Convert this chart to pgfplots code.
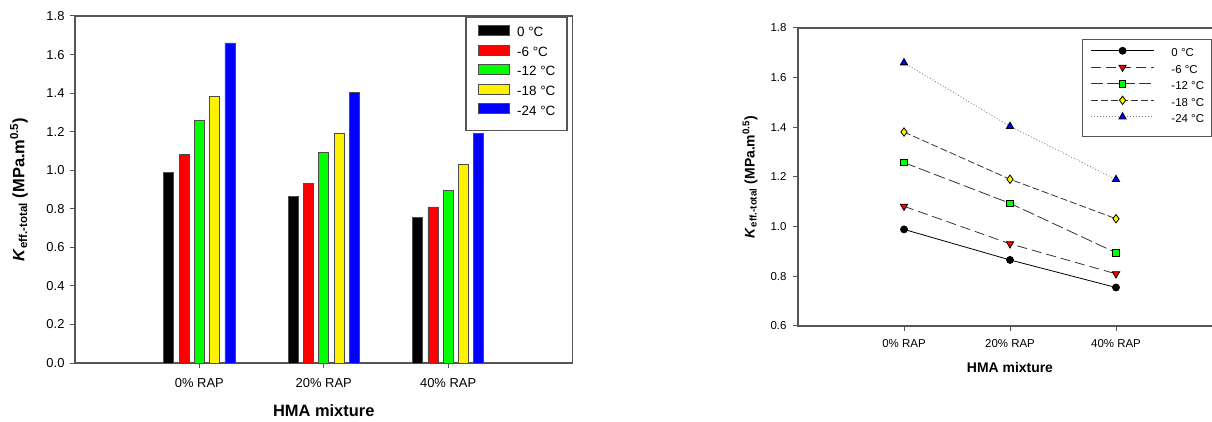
\documentclass[border=0pt]{standalone}
\usepackage{pgfplots}
\usepackage{pgfplotstable}
\pgfplotsset{compat=1.18}
\usepackage{fontspec}
\setmainfont{Liberation Sans}

\definecolor{axisgray}{HTML}{555555}
\definecolor{linegray}{HTML}{333333}

% K_eff,total for each mixture (rows) and test temperature (columns)
\pgfplotstableread{
x  T0    T6    T12   T18   T24
0  0.989 1.082 1.258 1.381 1.660
1  0.866 0.931 1.094 1.191 1.404
2  0.755 0.810 0.895 1.032 1.190
}\kdata

\pgfplotsset{
  common/.style={
    scale only axis,
    axis line style={axisgray, line width=1.2bp},
    tick style={axisgray, line width=1bp},
    major tick length=5bp,
    tick align=outside,
    xtick pos=bottom, ytick pos=left,
    xmin=-1, xmax=3,
    xtick={0,1,2},
    xticklabels={0\% RAP,20\% RAP,40\% RAP},
    /pgf/number format/assume math mode=true,
    yticklabel style={/pgf/number format/fixed, /pgf/number format/fixed zerofill,
      /pgf/number format/precision=1},
  },
}

\begin{document}
\begin{tikzpicture}
\path[use as bounding box] (0,0) rectangle (1212bp,422bp);

% ---------- bar chart ----------
\begin{axis}[common,
  at={(75bp,59bp)}, anchor=south west,
  width=497.5bp, height=347bp,
  ymin=0, ymax=1.8, ytick={0,0.2,...,1.8},
  ybar=5.3bp, bar width=10bp,
  tick label style={font=\fontsize{13}{15}\selectfont},
  xticklabel style={yshift=-7bp},
  yticklabel style={xshift=-2bp},
  every axis x label/.style={at={(rel axis cs:0.5,0)}, yshift=-48bp, anchor=center},
  every axis y label/.style={at={(rel axis cs:0,0.5)}, xshift=-56bp, rotate=90, anchor=center},
  label style={font=\fontsize{16.5}{19}\selectfont\bfseries},
  xlabel={HMA mixture},
  ylabel={\textit{K}\textsubscript{eff.-total} (MPa.m\textsuperscript{0.5})},
  legend image code/.code={\draw[#1] (0bp,-0.2bp) rectangle (31bp,9.8bp);},
  legend style={at={(rel axis cs:1,1)}, anchor=north east, xshift=-5bp, yshift=-1bp,
    draw=axisgray, line width=1.2bp, fill=white,
    font=\fontsize{13.5}{16}\selectfont,
    inner xsep=11.5bp, inner ysep=7.5bp, column sep=8bp,
    nodes={inner xsep=0bp, inner ysep=0bp, text height=11bp, text depth=8bp},
    legend cell align=left},
]
\addplot[fill=black,  draw=black!70, line width=0.6bp] table[x=x, y=T0]  {\kdata};
\addplot[fill=red,    draw=black!70, line width=0.6bp] table[x=x, y=T6]  {\kdata};
\addplot[fill=green,  draw=black!70, line width=0.6bp] table[x=x, y=T12] {\kdata};
\addplot[fill=yellow, draw=black!70, line width=0.6bp] table[x=x, y=T18] {\kdata};
\addplot[fill=blue,   draw=black!70, line width=0.6bp] table[x=x, y=T24] {\kdata};
\legend{0 °C,-6 °C,-12 °C,-18 °C,-24 °C}
\end{axis}

% ---------- line chart ----------
\begin{axis}[common,
  at={(798bp,96bp)}, anchor=south west,
  width=424bp, height=298bp,
  ymin=0.6, ymax=1.8, ytick={0.6,0.8,...,1.8},
  tick label style={font=\fontsize{11.5}{13}\selectfont},
  xticklabel style={yshift=-5bp},
  yticklabel style={xshift=-3bp},
  every axis x label/.style={at={(rel axis cs:0.5,0)}, yshift=-42bp, anchor=center},
  every axis y label/.style={at={(rel axis cs:0,0.5)}, xshift=-48bp, rotate=90, anchor=center},
  label style={font=\fontsize{14}{16}\selectfont\bfseries},
  xlabel={HMA mixture},
  ylabel={\textit{K}\textsubscript{eff.-total} (MPa.m\textsuperscript{0.5})},
  legend image code/.code={\draw[mark repeat=2,mark phase=2,#1] plot coordinates {(0bp,4.1bp) (31.5bp,4.1bp) (63bp,4.1bp)};},
  legend style={at={(axis description cs:0.67,0.963)}, anchor=north west,
    draw=axisgray, line width=1.2bp, fill=white,
    font=\fontsize{11.5}{13}\selectfont,
    inner xsep=8bp, inner ysep=7bp, column sep=17bp,
    nodes={inner xsep=0bp, inner ysep=0bp, text height=10bp, text depth=6.5bp},
    legend cell align=left},
]
\addplot[black, line width=0.8bp, mark=*, mark size=3.5bp,
  mark options={solid, fill=black, draw=black}] table[x=x, y=T0] {\kdata};
\addplot[linegray, line width=0.8bp, dash pattern=on 10bp off 5bp, mark=triangle*, mark size=4.2bp,
  mark options={solid, fill=red, draw=black, rotate=180}] table[x=x, y=T6] {\kdata};
\addplot[linegray, line width=0.8bp, dash pattern=on 12bp off 4bp, mark=square*, mark size=3.3bp,
  mark options={solid, fill=green, draw=black}] table[x=x, y=T12] {\kdata};
\addplot[linegray, line width=0.8bp, dash pattern=on 7bp off 3bp, mark=diamond*, mark size=4.2bp,
  mark options={solid, fill=yellow, draw=black}] table[x=x, y=T18] {\kdata};
\addplot[gray, line width=0.8bp, dash pattern=on 1bp off 2bp, mark=triangle*, mark size=4.2bp,
  mark options={solid, fill=blue, draw=black}] table[x=x, y=T24] {\kdata};
\legend{0 °C,-6 °C,-12 °C,-18 °C,-24 °C}
\end{axis}
\end{tikzpicture}
\end{document}
